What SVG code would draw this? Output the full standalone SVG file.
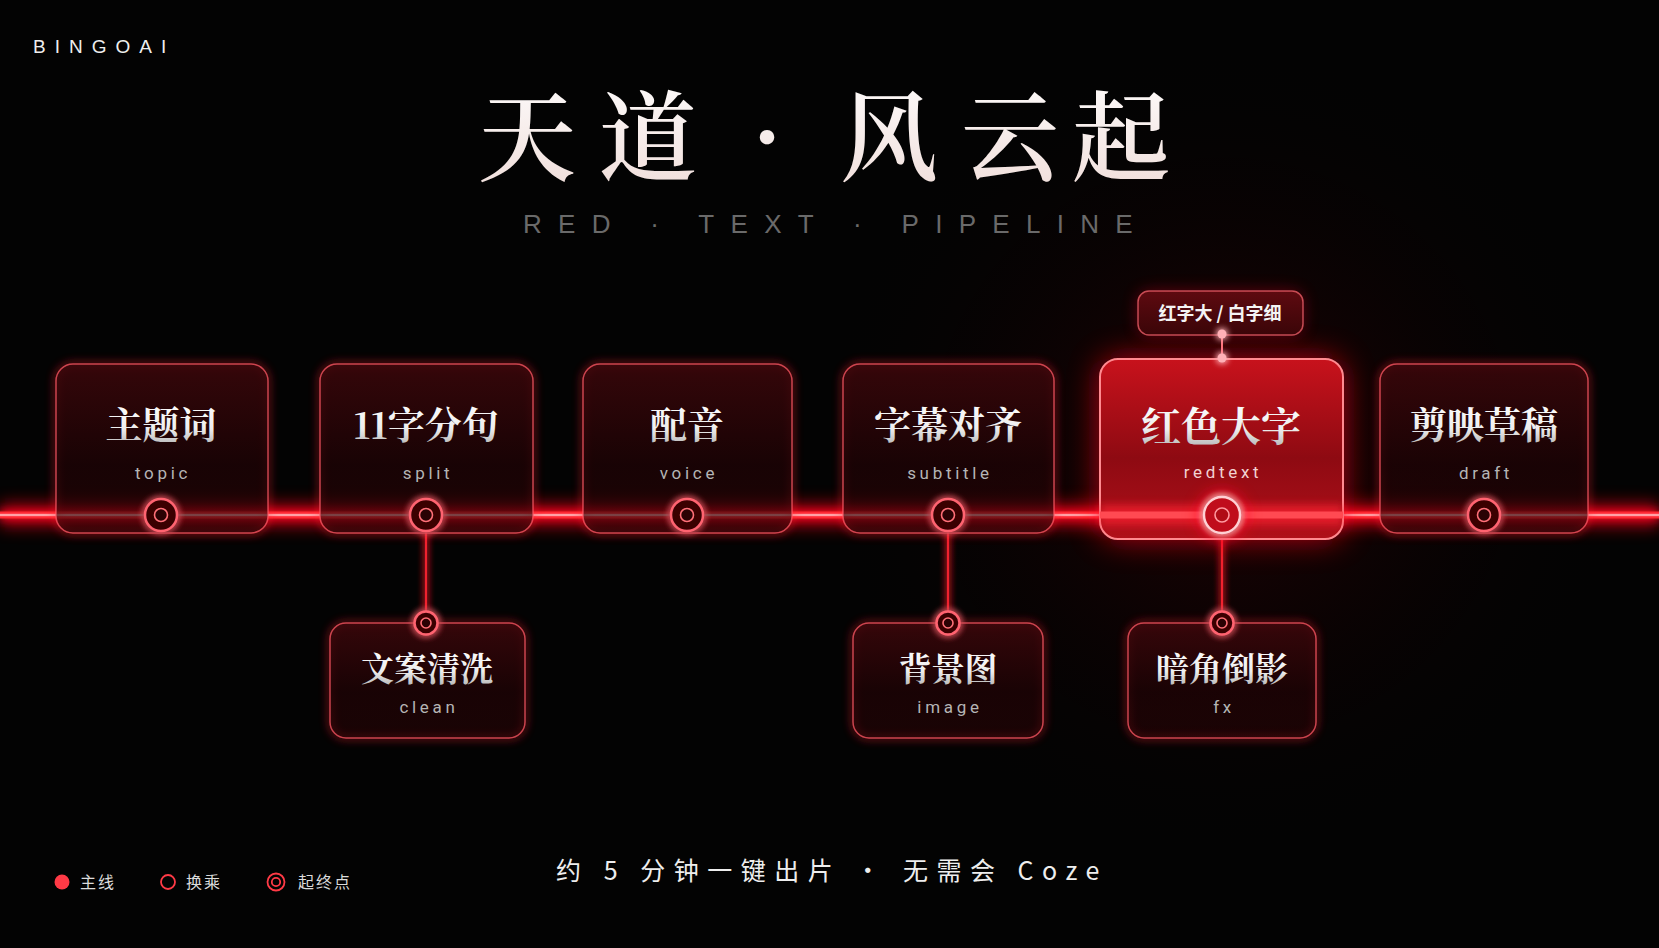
<svg xmlns="http://www.w3.org/2000/svg" width="1659" height="948" viewBox="0 0 1659 948">
<defs>
<style>
.cjk{font-family:"Noto Serif CJK SC","Noto Sans CJK SC",serif;font-weight:700;text-anchor:middle}
.lab{font-size:37px;fill:url(#txt)}
.sub{font-size:33px;fill:url(#txt)}
.en{font-family:Roboto,"Liberation Sans",sans-serif;font-size:17px;letter-spacing:3.7px;fill:#b5b5b5;text-anchor:middle}
.box{fill:url(#boxg);stroke:#ff5a66;stroke-opacity:.75;stroke-width:1.5}
.boxglow{fill:none;stroke:#ff1a2a;stroke-width:4;opacity:.55}
.ring{fill:#3a0306;stroke:#ff6470;stroke-width:2.5}
.ringi{fill:#2a0204;stroke:#ff7078;stroke-width:1.6}
.conn{stroke:#f0242e;stroke-width:2.2;fill:none}
.leg{font-family:"Noto Sans CJK SC",sans-serif;font-size:16px;letter-spacing:2px;fill:#dcdcdc}
</style>
<linearGradient id="boxg" x1="0" y1="0" x2="0" y2="1">
<stop offset="0" stop-color="#3e070b" stop-opacity=".85"/>
<stop offset=".6" stop-color="#1e0305" stop-opacity=".8"/>
<stop offset="1" stop-color="#2a0406" stop-opacity=".55"/>
</linearGradient>
<linearGradient id="redg" x1="0" y1="0" x2="0" y2="1">
<stop offset="0" stop-color="#c8121c"/>
<stop offset=".55" stop-color="#8e0a12"/>
<stop offset="1" stop-color="#b0101a"/>
</linearGradient>
<linearGradient id="tagg" x1="0" y1="0" x2="0" y2="1">
<stop offset="0" stop-color="#5e0a10"/>
<stop offset="1" stop-color="#3a0508"/>
</linearGradient>
<linearGradient id="txt" x1="0" y1="0" x2="0" y2="1">
<stop offset="0" stop-color="#ffffff"/>
<stop offset=".6" stop-color="#eeeeee"/>
<stop offset="1" stop-color="#a8a8a8"/>
</linearGradient>
<linearGradient id="title" x1="0" y1="0" x2="0" y2="1">
<stop offset="0" stop-color="#ffffff"/>
<stop offset="1" stop-color="#efdcd8"/>
</linearGradient>
<radialGradient id="bgglow" cx="1222" cy="450" r="420" gradientUnits="userSpaceOnUse">
<stop offset="0" stop-color="#3a0205" stop-opacity=".55"/>
<stop offset="1" stop-color="#000" stop-opacity="0"/>
</radialGradient>
<filter id="blur4" filterUnits="userSpaceOnUse" x="0" y="0" width="1659" height="948"><feGaussianBlur stdDeviation="4"/></filter>
<filter id="blur8" filterUnits="userSpaceOnUse" x="0" y="0" width="1659" height="948"><feGaussianBlur stdDeviation="8"/></filter>
<filter id="blur16" filterUnits="userSpaceOnUse" x="0" y="0" width="1659" height="948"><feGaussianBlur stdDeviation="16"/></filter>
<filter id="glow" filterUnits="userSpaceOnUse" x="0" y="0" width="1659" height="948">
<feGaussianBlur stdDeviation="3.5" result="b"/>
<feMerge><feMergeNode in="b"/><feMergeNode in="b"/><feMergeNode in="SourceGraphic"/></feMerge>
</filter>
</defs>

<rect width="1659" height="948" fill="#030303"/>
<rect width="1659" height="948" fill="url(#bgglow)"/>

<text x="33" y="53" font-family="Liberation Sans, sans-serif" font-size="19" letter-spacing="9" fill="#eeeeee">BINGOAI</text>

<g id="title-block">
<text class="cjk" font-size="98" style="font-weight:600" fill="url(#title)" y="173" x="527 648 767 889 1010 1121">天道·风云起</text>
<text x="836" y="233" font-family="Liberation Sans, sans-serif" font-size="26" letter-spacing="16.3" fill="#6a6a6a" text-anchor="middle">RED · TEXT · PIPELINE</text>
</g>

<g id="connectors">
<rect x="0" y="503" width="1659" height="24" fill="#ff0014" opacity=".6" filter="url(#blur8)"/>
<rect x="0" y="510" width="1659" height="10" fill="#ff1020" opacity=".85" filter="url(#blur4)"/>
<rect x="0" y="511.5" width="1659" height="7" fill="#ff2a34"/>
<rect x="0" y="513.8" width="1659" height="2.4" fill="#ffb8bc" opacity=".85"/>
<g filter="url(#glow)">
<line class="conn" x1="426" y1="531" x2="426" y2="612"/>
<line class="conn" x1="948" y1="531" x2="948" y2="612"/>
<line class="conn" x1="1222" y1="533" x2="1222" y2="612"/>
</g>
<line x1="1222" y1="334" x2="1222" y2="358" stroke="#ff8a92" stroke-width="2"/>
</g>

<g id="node-topic">
<rect class="boxglow" x="56" y="364" width="212" height="169" rx="17" filter="url(#blur4)"/>
<rect class="box" x="56" y="364" width="212" height="169" rx="17"/>
<text class="cjk lab" x="161" y="439">主题词</text>
<text class="en" x="163" y="479">topic</text>
<circle cx="161" cy="515" r="16" class="ring" filter="url(#glow)"/>
<circle cx="161" cy="515" r="6.5" class="ringi"/>
</g>

<g id="node-split">
<rect class="boxglow" x="320" y="364" width="213" height="169" rx="17" filter="url(#blur4)"/>
<rect class="box" x="320" y="364" width="213" height="169" rx="17"/>
<text class="cjk lab" x="426" y="439">11字分句</text>
<text class="en" x="428" y="479">split</text>
<circle cx="426" cy="515" r="16" class="ring" filter="url(#glow)"/>
<circle cx="426" cy="515" r="6.5" class="ringi"/>
</g>

<g id="node-voice">
<rect class="boxglow" x="583" y="364" width="209" height="169" rx="17" filter="url(#blur4)"/>
<rect class="box" x="583" y="364" width="209" height="169" rx="17"/>
<text class="cjk lab" x="687" y="439">配音</text>
<text class="en" x="689" y="479">voice</text>
<circle cx="687" cy="515" r="16" class="ring" filter="url(#glow)"/>
<circle cx="687" cy="515" r="6.5" class="ringi"/>
</g>

<g id="node-subtitle">
<rect class="boxglow" x="843" y="364" width="211" height="169" rx="17" filter="url(#blur4)"/>
<rect class="box" x="843" y="364" width="211" height="169" rx="17"/>
<text class="cjk lab" x="948" y="439">字幕对齐</text>
<text class="en" x="950" y="479">subtitle</text>
<circle cx="948" cy="515" r="16" class="ring" filter="url(#glow)"/>
<circle cx="948" cy="515" r="6.5" class="ringi"/>
</g>

<g id="node-redtext">
<rect x="1100" y="359" width="243" height="180" rx="18" fill="#ff0818" opacity=".7" filter="url(#blur16)"/>
<rect x="1100" y="359" width="243" height="180" rx="18" fill="url(#redg)" stroke="#ff8a90" stroke-width="2"/>
<rect x="1100" y="505" width="243" height="20" fill="#ff2030" opacity=".7" filter="url(#blur4)"/>
<rect x="1100" y="511.5" width="243" height="7" fill="#ff4a52"/>
<text class="cjk" font-size="40" fill="url(#txt)" x="1221" y="441">红色大字</text>
<text class="en" x="1223" y="478" style="fill:#f2d2d2">redtext</text>
<circle cx="1222" cy="515" r="24" fill="#ff1020" opacity=".8" filter="url(#blur8)"/>
<circle cx="1222" cy="515" r="18" fill="#c0101a" stroke="#ffd0d4" stroke-width="2.4" filter="url(#glow)"/>
<circle cx="1222" cy="515" r="7" fill="#b00c16" stroke="#ff9aa0" stroke-width="1.6"/>
</g>

<g id="node-draft">
<rect class="boxglow" x="1380" y="364" width="208" height="169" rx="17" filter="url(#blur4)"/>
<rect class="box" x="1380" y="364" width="208" height="169" rx="17"/>
<text class="cjk lab" x="1484" y="439">剪映草稿</text>
<text class="en" x="1486" y="479">draft</text>
<circle cx="1484" cy="515" r="16" class="ring" filter="url(#glow)"/>
<circle cx="1484" cy="515" r="6.5" class="ringi"/>
</g>

<g id="node-tag">
<rect x="1138" y="291" width="165" height="44" rx="11" fill="#ff1020" opacity=".35" filter="url(#blur8)"/>
<rect x="1138" y="291" width="165" height="44" rx="11" fill="url(#tagg)" stroke="#ff6a74" stroke-opacity=".7" stroke-width="1.5"/>
<text x="1220" y="320" font-family="Noto Sans CJK SC, sans-serif" font-size="18" font-weight="700" fill="#f4f4f4" text-anchor="middle">红字大 / 白字细</text>
<circle cx="1222" cy="334" r="4.5" fill="#ffb0b6" filter="url(#glow)"/>
<circle cx="1222" cy="358" r="4.5" fill="#ffb0b6" filter="url(#glow)"/>
</g>

<g id="node-clean">
<rect class="boxglow" x="330" y="623" width="195" height="115" rx="16" filter="url(#blur4)"/>
<rect class="box" x="330" y="623" width="195" height="115" rx="16"/>
<text class="cjk sub" x="427" y="681">文案清洗</text>
<text class="en" x="429" y="713">clean</text>
<circle cx="426" cy="623" r="11.5" class="ring" filter="url(#glow)"/>
<circle cx="426" cy="623" r="5" class="ringi"/>
</g>

<g id="node-image">
<rect class="boxglow" x="853" y="623" width="190" height="115" rx="16" filter="url(#blur4)"/>
<rect class="box" x="853" y="623" width="190" height="115" rx="16"/>
<text class="cjk sub" x="948" y="681">背景图</text>
<text class="en" x="950" y="713">image</text>
<circle cx="948" cy="623" r="11.5" class="ring" filter="url(#glow)"/>
<circle cx="948" cy="623" r="5" class="ringi"/>
</g>

<g id="node-fx">
<rect class="boxglow" x="1128" y="623" width="188" height="115" rx="16" filter="url(#blur4)"/>
<rect class="box" x="1128" y="623" width="188" height="115" rx="16"/>
<text class="cjk sub" x="1222" y="681">暗角倒影</text>
<text class="en" x="1224" y="713">fx</text>
<circle cx="1222" cy="623" r="11.5" class="ring" filter="url(#glow)"/>
<circle cx="1222" cy="623" r="5" class="ringi"/>
</g>

<g id="footer">
<text x="832" y="880" font-family="Noto Sans CJK SC, sans-serif" font-size="25" letter-spacing="8.5" fill="#eeeeee" text-anchor="middle">约 5 分钟一键出片 · 无需会 Coze</text>
</g>

<g id="legend">
<circle cx="62" cy="882" r="7.5" fill="#ff3a46"/>
<text class="leg" x="80" y="888">主线</text>
<circle cx="168" cy="882" r="7" fill="none" stroke="#ff3a46" stroke-width="1.8"/>
<text class="leg" x="186" y="888">换乘</text>
<circle cx="276" cy="882" r="8.5" fill="none" stroke="#ff3a46" stroke-width="1.8"/>
<circle cx="276" cy="882" r="4.2" fill="none" stroke="#ff3a46" stroke-width="1.8"/>
<text class="leg" x="298" y="888">起终点</text>
</g>
</svg>
